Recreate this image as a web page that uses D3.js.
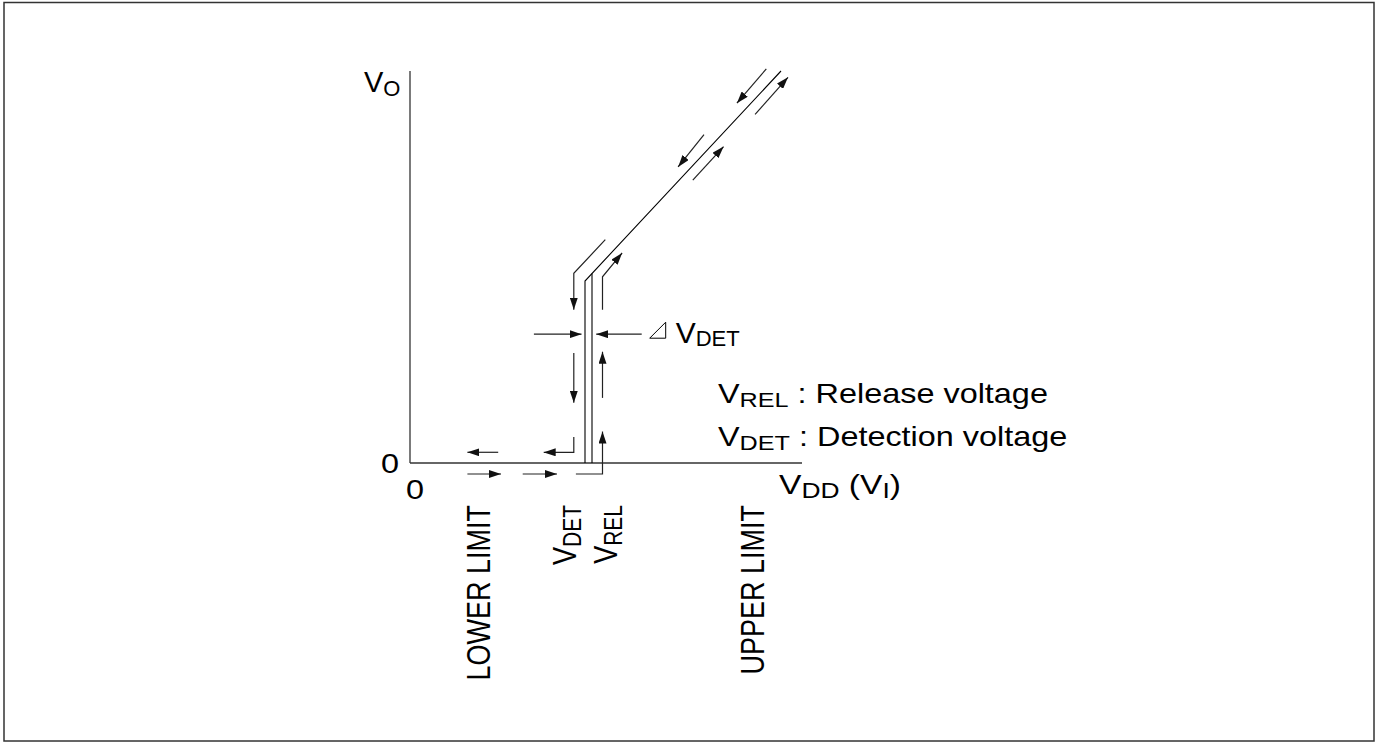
<!DOCTYPE html>
<html>
<head>
<meta charset="utf-8">
<script src="https://cdn.jsdelivr.net/npm/d3@7"></script>
<style>
  body { margin: 0; background: #fff; }
  text { font-family: "Liberation Sans", Arial, sans-serif; fill: #000; }
</style>
</head>
<body>
<div id="chart"></div>
<script>
// schematic values, in arbitrary voltage units (V_DD along x, V_O along y)
const xTickLabels = ["0"];
const yTickLabels = ["0"];
const thresholds = [{name: "DET", v: 25}, {name: "REL", v: 26}];
const limits = [{label: "LOWER LIMIT", v: 11.4}, {label: "UPPER LIMIT", v: 50.6}];

// output curve: detection branch and release branch
const detCurve = [[25, 0], [25, 26], [53, 56]];
const relX = 26;

// direction arrows (last point is the arrow tip)
const arrows = [
    [[12.6, 1.53], [8.2, 1.53]],
    [[23.4, 3.7], [23.4, 1.53], [19.1, 1.53]],
    [[8.2, -1.57], [13.0, -1.57]],
    [[16.1, -1.57], [21.0, -1.57]],
    [[23.7, -1.57], [27.5, -1.57], [27.5, 4.5]],
    [[23.4, 15.7], [23.4, 8.6]],
    [[27.5, 9.3], [27.5, 15.9]],
    [[27.5, 21.9], [27.5, 26.6], [30.3, 30.0]],
    [[27.9, 31.9], [23.4, 27.1], [23.4, 21.9]],
    [[40.4, 40.4], [44.8, 45.2]],
    [[42.0, 46.9], [38.3, 42.3]],
    [[49.3, 49.8], [54.0, 55.1]],
    [[50.9, 56.3], [46.7, 51.4]]
];
// delta V_DET arrows
const deltaY = 18.4;
const deltaArrows = [[[17.7, deltaY], [24.5, deltaY]], [[33.1, deltaY], [26.6, deltaY]]];

const legendRows = [
    {sub: "REL", text: " : Release voltage"},
    {sub: "DET", text: " : Detection voltage"}
];

const width = 1380, height = 744;
const sx = 1.2; // text in the drawing is a bit wide

const svg = d3.select("#chart").append("svg")
    .attr("width", width)
    .attr("height", height);

svg.append("rect")
    .attr("width", width).attr("height", height)
    .attr("fill", "#fff");

// frame
svg.append("rect")
    .attr("x", 4).attr("y", 2.5)
    .attr("width", 1370).attr("height", 738.5)
    .attr("fill", "none")
    .attr("stroke", "#333")
    .attr("stroke-width", 1.5);

const x = d3.scaleLinear().domain([0, 56]).range([410, 802]);
const y = d3.scaleLinear().domain([0, 56]).range([463, 71]);

svg.append("defs").append("marker")
    .attr("id", "head")
    .attr("viewBox", "0 0 12 8")
    .attr("markerUnits", "userSpaceOnUse")
    .attr("markerWidth", 12).attr("markerHeight", 8)
    .attr("refX", 12).attr("refY", 4)
    .attr("orient", "auto")
    .append("path")
    .attr("d", "M0,0L12,4L0,8Z")
    .attr("fill", "#111");

const line = d3.line().x(d => x(d[0])).y(d => y(d[1]));

function wideText(px, py, size, rotate) {
    return svg.append("text")
        .attr("transform", `translate(${px},${py}) scale(${sx},1)` + (rotate ? " rotate(-90)" : ""))
        .attr("font-size", size);
}

// axes
svg.append("line")
    .attr("x1", x(0)).attr("x2", x(0))
    .attr("y1", y(0)).attr("y2", y(56))
    .attr("stroke", "#222").attr("stroke-width", 1.2);
svg.append("line")
    .attr("x1", x(0)).attr("x2", x(56))
    .attr("y1", y(0)).attr("y2", y(0))
    .attr("stroke", "#333").attr("stroke-width", 1.4);

wideText(x(0) + 5, y(0) + 36, 27)
    .attr("text-anchor", "middle")
    .text(xTickLabels[0]);
wideText(x(0) - 11, y(0) + 10, 27)
    .attr("text-anchor", "end")
    .text(yTickLabels[0]);

// axis titles
const vo = svg.append("text").attr("x", 364).attr("y", 92).attr("font-size", 29);
vo.append("tspan").text("V");
vo.append("tspan").attr("font-size", 22).attr("dy", 4).text("O");

const vdd = wideText(779, 494, 28);
vdd.append("tspan").text("V");
vdd.append("tspan").attr("font-size", 22).attr("dy", 4).text("DD");
vdd.append("tspan").attr("dy", -4).text(" (V");
vdd.append("tspan").attr("font-size", 22).attr("dy", 4).text("I");
vdd.append("tspan").attr("dy", -4).text(")");

// curve
svg.append("path")
    .attr("d", line(detCurve))
    .attr("fill", "none")
    .attr("stroke", "#000").attr("stroke-width", 1.1);

const slope = (detCurve[2][1] - detCurve[1][1]) / (detCurve[2][0] - detCurve[1][0]);
const relTop = detCurve[1][1] + slope * (relX - detCurve[1][0]);
svg.append("path")
    .attr("d", line([[relX, 0], [relX, relTop]]))
    .attr("fill", "none")
    .attr("stroke", "#000").attr("stroke-width", 1.1);

// arrows
svg.selectAll(".arrow")
    .data(arrows.concat(deltaArrows))
    .join("path")
    .attr("class", "arrow")
    .attr("d", line)
    .attr("fill", "none")
    .attr("stroke", "#222").attr("stroke-width", 1.2)
    .attr("marker-end", "url(#head)");

// delta V_DET label
const dx0 = x(deltaArrows[1][0][0]) + 8, dy0 = y(deltaY);
svg.append("path")
    .attr("d", `M${dx0},${dy0 + 4}L${dx0 + 16},${dy0 + 4}L${dx0 + 16},${dy0 - 12}Z`)
    .attr("fill", "none")
    .attr("stroke", "#000").attr("stroke-width", 1);
const dv = svg.append("text").attr("x", dx0 + 26).attr("y", dy0 + 9).attr("font-size", 30);
dv.append("tspan").text("V");
dv.append("tspan").attr("font-size", 22).attr("dy", 3).text("DET");

// legend
legendRows.forEach((r, i) => {
    const t = wideText(718, 403 + i * 43, 27);
    t.append("tspan").text("V");
    t.append("tspan").attr("font-size", 21).attr("dy", 4).text(r.sub);
    t.append("tspan").attr("dy", -4).text(r.text);
});

// rotated labels under the axis
const offsets = {DET: -9, REL: 25};
thresholds.forEach(d => {
    const t = wideText(x(d.v) + offsets[d.name], 505, 27, true)
        .attr("text-anchor", "end");
    t.append("tspan").text("V");
    t.append("tspan").attr("font-size", 21).attr("dy", 4).text(d.name);
});

limits.forEach(d => {
    wideText(x(d.v), 505, 27, true)
        .attr("text-anchor", "end")
        .text(d.label);
});
</script>
</body>
</html>
